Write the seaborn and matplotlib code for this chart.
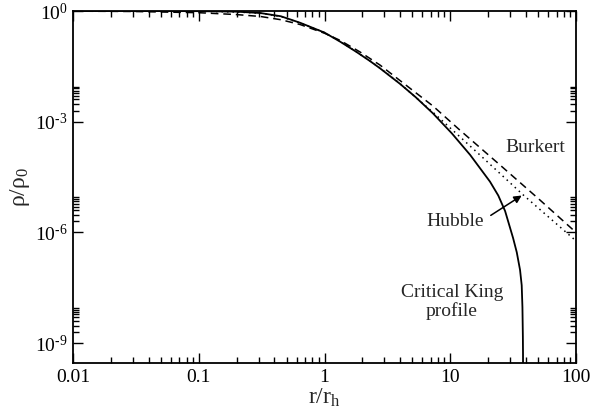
import numpy as np
import pandas as pd
import matplotlib
matplotlib.use("Agg")
import matplotlib.pyplot as plt
import matplotlib.ticker as mticker
import seaborn as sns

# ---- data (r/r_h, rho/rho_0) ----
king_r = [0.01, 0.03, 0.1, 0.2, 0.31, 0.45, 0.64, 1.0, 1.33, 1.8, 2.30, 2.76, 3.98, 5.3,
          7.29, 10.3, 14.4, 20.7, 24.1, 27.3, 31.6, 33.8, 35.9, 37.0, 37.5, 37.8, 37.9, 38.0]
king_rho = [1.0, 1.0, 0.99, 0.96, 0.88, 0.72, 0.48, 0.26, 0.148, 0.0773, 0.044, 0.0281,
            0.01066, 0.00465, 0.00168, 4.83e-4, 1.26e-4, 2.38e-5, 1.0e-5, 3.8e-6, 7.05e-7,
            2.9e-7, 9.6e-8, 3.7e-8, 9.5e-9, 1.5e-9, 5e-10, 1e-12]

burkert_r = [0.01, 0.03, 0.1, 0.2, 0.31, 0.45, 0.64, 1.0, 1.33, 1.9, 2.76, 3.98, 7.29,
             11.9, 24.9, 51.7, 100.0]
burkert_rho = [0.99, 0.97, 0.90, 0.80, 0.71, 0.58, 0.43, 0.25, 0.16, 0.079, 0.0344, 0.0131,
               0.00266, 5.96e-4, 6.7e-5, 7.55e-6, 1.0e-6]

hubble_r = [0.01, 0.1, 0.2, 0.31, 0.45, 0.64, 1.0, 1.33, 1.8, 2.30, 2.76, 3.98, 7.29, 10.3,
            17.2, 37.9, 100.0]
hubble_rho = [1.0, 0.985, 0.94, 0.87, 0.71, 0.47, 0.26, 0.15, 0.078, 0.0445, 0.0285, 0.0108,
              0.0018, 6.17e-4, 1.26e-4, 1.05e-5, 5.9e-7]

x_ticks = [0.01, 0.1, 1, 10, 100]
x_tick_labels = ["0.01", "0.1", "1", "10", "100"]
y_ticks = [1e-9, 1e-6, 1e-3, 1e0]
y_tick_labels = [r"$\mathregular{10^{\text{-}9}}$", r"$\mathregular{10^{\text{-}6}}$",
                 r"$\mathregular{10^{\text{-}3}}$", r"$\mathregular{10^{0}}$"]

sns.set_style("ticks")
plt.rcParams["font.family"] = ["Liberation Serif", "DejaVu Serif"]
plt.rcParams["mathtext.fontset"] = "custom"
plt.rcParams["mathtext.rm"] = "Liberation Serif"
plt.rcParams["mathtext.it"] = "Liberation Serif:italic"
plt.rcParams["mathtext.bf"] = "Liberation Serif:bold"

fig = plt.figure(figsize=(5.9, 4.17), dpi=100)
ax = fig.add_axes([73 / 590, 1 - 363 / 417, (576 - 73) / 590, (363 - 11) / 417])

king = pd.DataFrame({"r": king_r, "rho": king_rho})
burk = pd.DataFrame({"r": burkert_r, "rho": burkert_rho})
hub = pd.DataFrame({"r": hubble_r, "rho": hubble_rho})

sns.lineplot(data=king, x="r", y="rho", ax=ax, color="black", lw=1.3, estimator=None, sort=False)
sns.lineplot(data=burk, x="r", y="rho", ax=ax, color="black", lw=1.1, estimator=None, sort=False,
             linestyle=(0, (5, 3.2)))
sns.lineplot(data=hub, x="r", y="rho", ax=ax, color="black", lw=1.1, estimator=None, sort=False,
             linestyle=(0, (1, 2.6)))

ax.set_xscale("log")
ax.set_yscale("log")
ax.set_xlim(0.01, 100)
ax.set_ylim(2.9e-10, 1.0)

ax.xaxis.set_major_locator(mticker.FixedLocator(x_ticks))
ax.set_xticklabels(x_tick_labels)
ax.xaxis.set_minor_locator(mticker.LogLocator(base=10, subs=np.arange(2, 10)))
ax.xaxis.set_minor_formatter(mticker.NullFormatter())

ax.yaxis.set_major_locator(mticker.FixedLocator(y_ticks))
ax.set_yticklabels(y_tick_labels)
ax.yaxis.set_minor_locator(mticker.FixedLocator(
    [k * t for t in y_ticks[:-1] for k in range(2, 10)]))
ax.yaxis.set_minor_formatter(mticker.NullFormatter())

ax.tick_params(which="both", direction="in", top=True, right=True, width=1.0, colors="black",
               labelsize=14, pad=4)
ax.tick_params(which="major", length=7)
ax.tick_params(which="minor", length=4)
for s in ax.spines.values():
    s.set_linewidth(1.3)
    s.set_color("black")

ax.set_xlabel(r"r/r$_\mathregular{h}$", fontsize=17, labelpad=1)
ax.set_ylabel(r"ρ/ρ$_\mathregular{0}$", fontsize=17, labelpad=2)

ax.text(47.2, 2.0e-4, "Burkert", ha="center", va="center", fontsize=14)
ax.text(10.9, 2.0e-6, "Hubble", ha="center", va="center", fontsize=14)
ax.text(10.3, 1.3e-8, "Critical King\nprofile", ha="center", va="center", fontsize=14,
        linespacing=1.05)
ax.annotate("", xy=(37.0, 1.0e-5), xytext=(21.0, 2.9e-6),
            arrowprops=dict(arrowstyle="-|>", color="black", lw=1.1, mutation_scale=11,
                            shrinkA=0, shrinkB=0))

fig.savefig("out.png", dpi=100)
